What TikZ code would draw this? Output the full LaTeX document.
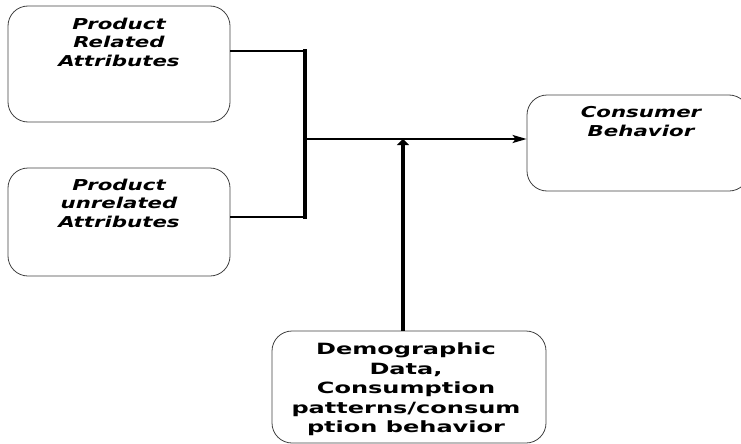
\documentclass[tikz,border=0pt]{standalone}
\usepackage{fontspec}
\usetikzlibrary{arrows.meta}
\newfontfamily\boxfont[FakeStretch=1.42]{DejaVu Sans}
\newfontfamily\demofont[FakeStretch=1.55]{DejaVu Sans}
\tikzset{
  rbox/.style={draw=black!75, line width=0.8pt, rounded corners=20pt, inner sep=0pt},
  boxtext/.style={anchor=north, inner sep=0pt, align=center,
    font=\boxfont\bfseries\itshape\fontsize{15}{18.5}\selectfont},
  demotext/.style={anchor=north, inner sep=0pt, align=center,
    font=\demofont\bfseries\fontsize{15.5}{19.5}\selectfont},
  thinlink/.style={line width=2pt},
  thicklink/.style={line width=4pt},
}
\begin{document}
\begin{tikzpicture}[x=1pt,y=-1pt]
\useasboundingbox (0,0) rectangle (741,444);
\node[rbox, minimum width=222pt, minimum height=116pt,
  label={[boxtext, yshift=-12pt]north:Product\\Related\\Attributes}] (pra) at (119,64) {};
\node[rbox, minimum width=222pt, minimum height=108pt,
  label={[boxtext, yshift=-11pt]north:Product\\unrelated\\Attributes}] (pua) at (119,222) {};
\node[rbox, minimum width=222pt, minimum height=96pt,
  label={[boxtext, yshift=-12pt, xshift=3pt]north:Consumer\\Behavior}] (cb) at (638,143) {};
\node[rbox, minimum width=274pt, minimum height=112pt,
  label={[demotext, yshift=-12pt, xshift=-3pt]north:Demographic\\Data,\\Consumption\\patterns/consum\\ption behavior}] (demo) at (409,387) {};
\coordinate (jt) at (305,51);
\coordinate (jb) at (305,217);
\coordinate (jm) at (305,139);
\coordinate (jv) at (403,139);
\draw[thinlink] ([yshift=13pt]pra.east) -- ([xshift=1pt]jt);
\draw[thinlink] ([yshift=5pt]pua.east) -- ([xshift=1pt]jb);
\draw[thicklink, line cap=rect] (jt) -- (jb);
\draw[thinlink, -{Stealth[length=14pt, width=8pt, inset=3pt]}] (jm) -- ([yshift=4pt]cb.west);
\draw[thicklink, -{Triangle[length=6pt, width=12pt]}] ([xshift=-6pt]demo.north) -- (jv);
\end{tikzpicture}
\end{document}
